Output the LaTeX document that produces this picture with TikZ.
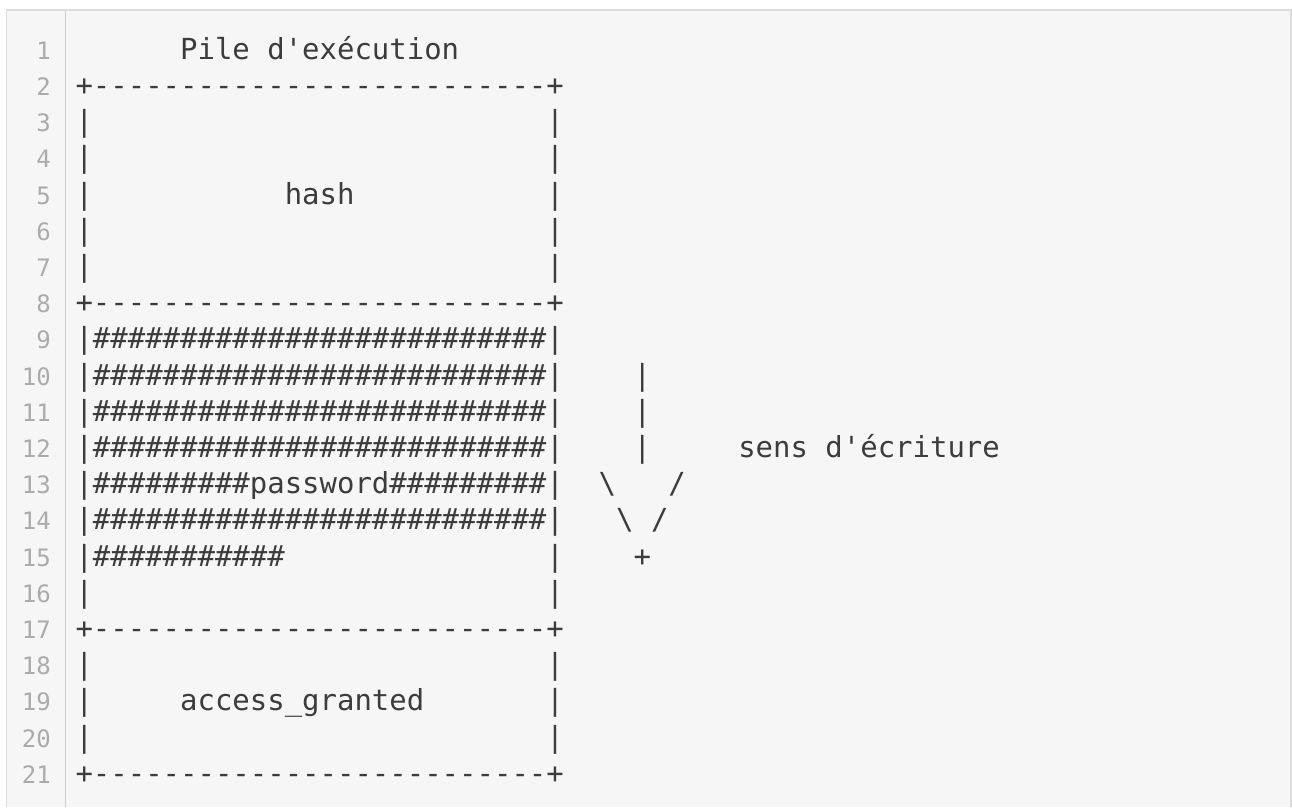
\documentclass[tikz,border=0pt]{standalone}
\usepackage{fontspec}
\setmonofont{DejaVu Sans Mono}
\ExplSyntaxOn
\cs_new:Npn \reprun #1#2 { \prg_replicate:nn {#1} {#2} }
\ExplSyntaxOff
\definecolor{codebg}{HTML}{F6F6F6}
\definecolor{codeframe}{HTML}{DCDCDC}
\definecolor{codegutter}{HTML}{CCCCCC}
\definecolor{codetext}{HTML}{3C3C3C}
\definecolor{codenum}{HTML}{ABABAB}
% ASCII-art building blocks (box is 28 columns wide)
\newcommand\edgerow{+\reprun{26}{-}+}
\newcommand\emptyrow{|\reprun{26}{~}|}
\newcommand\fullrow{|\reprun{26}{\#}|}
\tikzset{
  codeline/.style={anchor=base west, inner sep=0pt, text=codetext,
    font=\ttfamily\fontsize{28.97}{34}\selectfont},
  lineno/.style={anchor=base east, inner sep=0pt, text=codenum,
    font=\ttfamily\fontsize{24}{28}\selectfont},
}
\begin{document}
\begin{tikzpicture}[x=1pt,y=-1pt]
  \useasboundingbox (0,0) rectangle (1292,807);
  \fill[white] (0,0) rectangle (1292,807);
  % listing panel, open at the bottom
  \fill[codebg] (6.7,10) rectangle (1291,807);
  \draw[codeframe, line width=1.3pt] (6.7,807) -- (6.7,10) -- (1291,10) -- (1291,807);
  \draw[codegutter, line width=1.5pt] (65.7,10.6) -- (65.7,807);
  % line numbers
  \foreach \n in {1,...,21}
    \node[lineno] (num\n) at (51,{59.3+(\n-1)*36.2}) {\n};
  % listing text
  \def\cx{75.3}
  \node[codeline] (line1)  at (\cx,{59.3+0*36.2})  {\reprun{6}{~}Pile d\textquotesingle exécution};
  \node[codeline] (line2)  at (\cx,{59.3+1*36.2})  {\edgerow};
  \node[codeline] (line3)  at (\cx,{59.3+2*36.2})  {\emptyrow};
  \node[codeline] (line4)  at (\cx,{59.3+3*36.2})  {\emptyrow};
  \node[codeline] (line5)  at (\cx,{59.3+4*36.2})  {|\reprun{11}{~}hash\reprun{11}{~}|};
  \node[codeline] (line6)  at (\cx,{59.3+5*36.2})  {\emptyrow};
  \node[codeline] (line7)  at (\cx,{59.3+6*36.2})  {\emptyrow};
  \node[codeline] (line8)  at (\cx,{59.3+7*36.2})  {\edgerow};
  \node[codeline] (line9)  at (\cx,{59.3+8*36.2})  {\fullrow};
  \node[codeline] (line10) at (\cx,{59.3+9*36.2})  {\fullrow\reprun{4}{~}|};
  \node[codeline] (line11) at (\cx,{59.3+10*36.2}) {\fullrow\reprun{4}{~}|};
  \node[codeline] (line12) at (\cx,{59.3+11*36.2}) {\fullrow\reprun{4}{~}|\reprun{5}{~}sens d\textquotesingle écriture};
  \node[codeline] (line13) at (\cx,{59.3+12*36.2}) {|\reprun{9}{\#}password\reprun{9}{\#}|~~\textbackslash~~~/};
  \node[codeline] (line14) at (\cx,{59.3+13*36.2}) {\fullrow~~~\textbackslash~/};
  \node[codeline] (line15) at (\cx,{59.3+14*36.2}) {|\reprun{11}{\#}\reprun{15}{~}|\reprun{4}{~}+};
  \node[codeline] (line16) at (\cx,{59.3+15*36.2}) {\emptyrow};
  \node[codeline] (line17) at (\cx,{59.3+16*36.2}) {\edgerow};
  \node[codeline] (line18) at (\cx,{59.3+17*36.2}) {\emptyrow};
  \node[codeline] (line19) at (\cx,{59.3+18*36.2}) {|\reprun{5}{~}access\_granted\reprun{7}{~}|};
  \node[codeline] (line20) at (\cx,{59.3+19*36.2}) {\emptyrow};
  \node[codeline] (line21) at (\cx,{59.3+20*36.2}) {\edgerow};
\end{tikzpicture}
\end{document}
